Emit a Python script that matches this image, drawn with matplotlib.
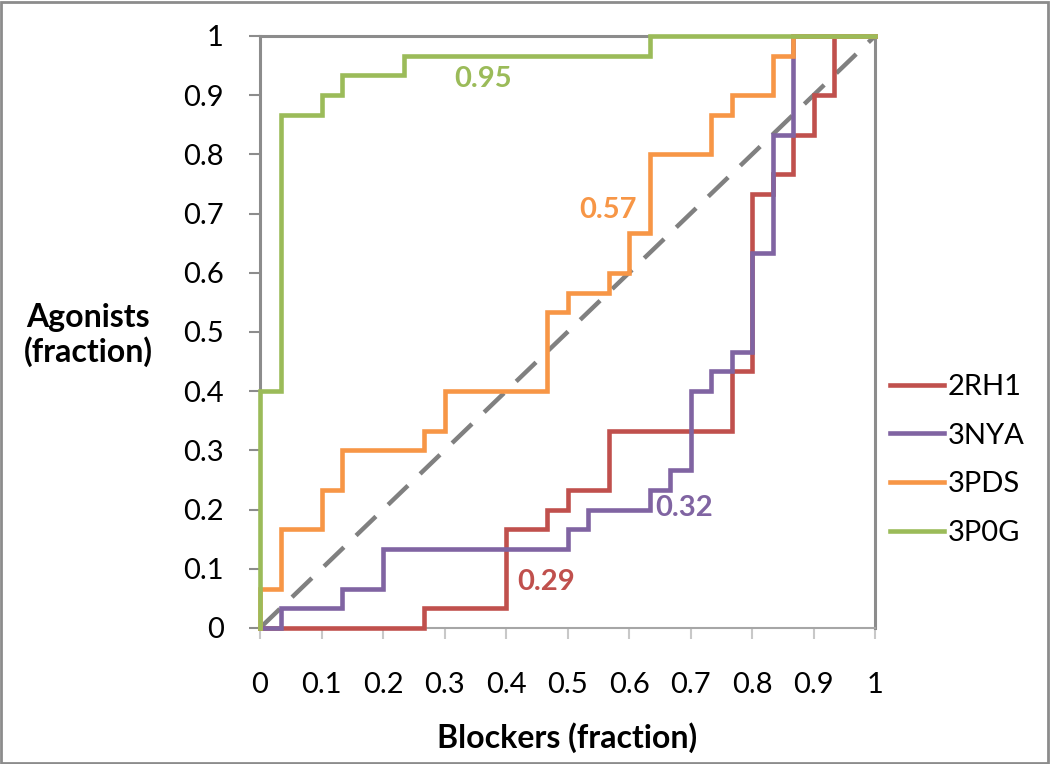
import matplotlib
matplotlib.use("Agg")
import matplotlib.pyplot as plt
from matplotlib.patches import Rectangle
import numpy as np

plt.rcParams['font.family'] = ['Lato', 'DejaVu Sans']

# ROC step curves, values in units of 1/30 (30 agonists, 30 blockers)
N = 30
series_names = ["2RH1", "3NYA", "3PDS", "3P0G"]
series_colors = ["#C0504D", "#8064A2", "#F79646", "#9BBB59"]

x_2RH1 = [0, 8, 12, 14, 15, 17, 23, 24, 25, 26, 27, 28, 30]
y_2RH1 = [0, 1, 5, 6, 7, 10, 13, 22, 23, 25, 27, 30, 30]

x_3NYA = [0, 1, 4, 6, 15, 16, 19, 20, 21, 22, 23, 24, 25, 26, 30]
y_3NYA = [0, 1, 2, 4, 5, 6, 7, 8, 12, 13, 14, 19, 25, 30, 30]

x_3PDS = [0, 0, 1, 3, 4, 8, 9, 14, 15, 17, 18, 19, 22, 23, 25, 26, 30]
y_3PDS = [0, 2, 5, 7, 9, 10, 12, 16, 17, 18, 20, 24, 26, 27, 29, 30, 30]

x_3P0G = [0, 0, 1, 3, 4, 7, 19, 30]
y_3P0G = [0, 12, 26, 27, 28, 29, 30, 30]

auc_labels = ["0.29", "0.32", "0.57", "0.95"]
auc_pos = [(0.465, 0.077), (0.689, 0.203), (0.566, 0.706), (0.363, 0.927)]

xs = [x_2RH1, x_3NYA, x_3PDS, x_3P0G]
ys = [y_2RH1, y_3NYA, y_3PDS, y_3P0G]

ticks = [0, 0.1, 0.2, 0.3, 0.4, 0.5, 0.6, 0.7, 0.8, 0.9, 1]
tick_labels = ["0", "0.1", "0.2", "0.3", "0.4", "0.5", "0.6", "0.7", "0.8", "0.9", "1"]

fig = plt.figure(figsize=(10.5, 7.64), dpi=100)
ax = fig.add_axes([260 / 1050, 1 - 628 / 764, 615 / 1050, 592 / 764])

# diagonal
ax.plot([0, 1], [0, 1], color="#808080", lw=3.2, dashes=(6.2, 3.8), zorder=2.6, clip_on=False)

for name, col, x, y in zip(series_names, series_colors, xs, ys):
    ax.step(np.array(x) / N, np.array(y) / N, where="post", color=col, lw=3.3,
            label=name, zorder=3, clip_on=False, solid_joinstyle="miter")

for txt, col, (tx, ty) in zip(auc_labels, series_colors, auc_pos):
    ax.text(tx, ty, txt, color=col, fontsize=21, fontweight="bold", ha="center", va="center")

ax.set_xlim(0, 1)
ax.set_ylim(0, 1)
ax.set_xticks(ticks)
ax.set_xticklabels(tick_labels)
ax.set_yticks(ticks)
ax.set_yticklabels(tick_labels)
ax.tick_params(axis="x", direction="out", length=8, width=1.5, color="#c8c8c8", pad=24, labelsize=21)
ax.tick_params(axis="y", direction="out", length=8, width=1.5, color="#8c8c8c", pad=18, labelsize=21)

for s in ["top", "right", "left"]:
    ax.spines[s].set_color("#8c8c8c")
    ax.spines[s].set_linewidth(2.2)
ax.spines["bottom"].set_color("#a6a6a6")
ax.spines["bottom"].set_linewidth(1.5)

fig.text(88 / 1050, 1 - 335 / 764, "Agonists\n(fraction)", fontsize=23, fontweight="bold",
         ha="center", va="center", linespacing=1.2)
fig.text(567 / 1050, 1 - 738 / 764, "Blockers (fraction)", fontsize=23, fontweight="bold",
         ha="center", va="center")

leg = fig.legend(loc="center left", bbox_to_anchor=(878 / 1050, 1 - 460 / 764),
                 frameon=False, fontsize=21, handlelength=1.85, handletextpad=0.15,
                 labelspacing=0.78, borderaxespad=0)

fig.patches.append(Rectangle((0.001, 0.001), 0.997, 0.997, transform=fig.transFigure,
                             fill=False, edgecolor="#8c8c8c", lw=2))

fig.savefig("out.png", dpi=100)
